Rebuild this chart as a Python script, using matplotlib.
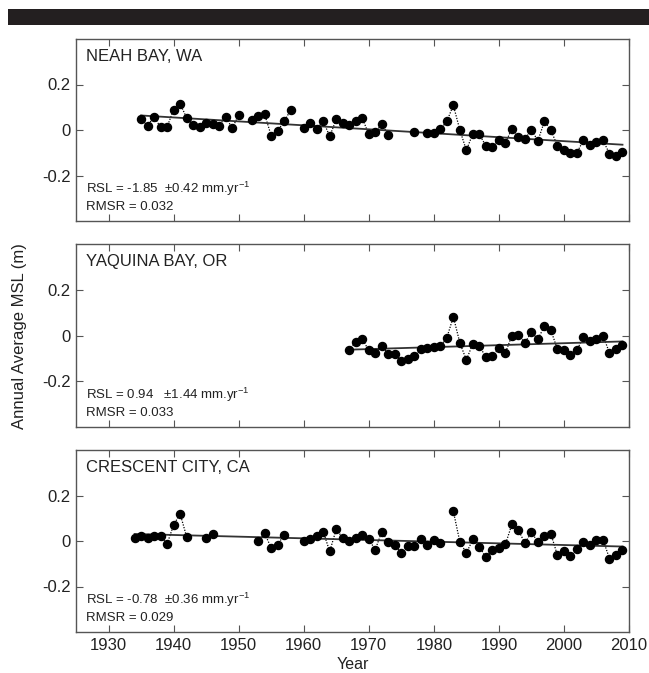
import numpy as np
import matplotlib
matplotlib.use("Agg")
import matplotlib.pyplot as plt
from matplotlib.patches import Rectangle

plt.rcParams['font.family'] = ['Liberation Sans', 'DejaVu Sans']
plt.rcParams['mathtext.fontset'] = 'custom'
plt.rcParams['mathtext.rm'] = 'Liberation Sans'

nan = np.nan

# ---- Neah Bay, WA ----
neah_years = list(range(1935, 2010))
neah_msl = [0.048, 0.019, 0.058, 0.012, 0.013, 0.090, 0.115, 0.054, 0.020, 0.012,
            0.029, 0.028, 0.019, 0.057, 0.009, 0.064, nan, 0.044, 0.063, 0.069,
            -0.025, -0.003, 0.038, 0.088, nan, 0.009, 0.032, 0.004, 0.039, -0.028,
            0.047, 0.032, 0.022, 0.039, 0.053, -0.019, -0.010, 0.025, -0.020, nan,
            nan, nan, -0.007, nan, -0.013, -0.015, 0.003, 0.038, 0.109, 0.000,
            -0.089, -0.016, -0.019, -0.070, -0.073, -0.042, -0.057, 0.006, -0.029, -0.039,
            0.000, -0.047, 0.038, -0.001, -0.070, -0.089, -0.102, -0.099, -0.045, -0.067,
            -0.051, -0.045, -0.104, -0.114, -0.096]

# ---- Yaquina Bay, OR ----
yaq_years = list(range(1967, 2010))
yaq_msl = [-0.063, -0.027, -0.015, -0.065, -0.075, -0.046, -0.079, -0.079, -0.112, -0.104,
           -0.091, -0.060, -0.053, -0.051, -0.046, -0.010, 0.082, -0.032, -0.107, -0.035,
           -0.044, -0.096, -0.091, -0.056, -0.076, 0.000, 0.004, -0.032, 0.015, -0.016,
           0.041, 0.022, -0.060, -0.062, -0.085, -0.063, -0.007, -0.024, -0.016, 0.000,
           -0.076, -0.060, -0.040]

# ---- Crescent City, CA ----
cc_years = list(range(1934, 2010))
cc_msl = [0.012, 0.024, 0.012, 0.024, 0.024, -0.013, 0.070, 0.120, 0.019, nan,
          nan, 0.013, 0.030, nan, nan, nan, nan, nan, nan, 0.000,
          0.034, -0.031, -0.016, 0.028, nan, nan, -0.001, 0.010, 0.022, 0.041,
          -0.046, 0.052, 0.013, 0.000, 0.011, 0.028, 0.007, -0.038, 0.041, -0.004,
          -0.018, -0.054, -0.020, -0.022, 0.010, -0.016, 0.003, -0.009, nan, 0.131,
          -0.004, -0.053, 0.007, -0.025, -0.072, -0.038, -0.029, -0.015, 0.073, 0.047,
          -0.009, 0.038, -0.004, 0.023, 0.031, -0.063, -0.045, -0.066, -0.036, -0.004,
          -0.019, 0.006, 0.006, -0.077, -0.060, -0.039]

stations = ["NEAH BAY, WA", "YAQUINA BAY, OR", "CRESCENT CITY, CA"]
rsl_text = [r"RSL = -1.85  ±0.42 mm.yr$^{\mathregular{-1}}$",
            r"RSL = 0.94   ±1.44 mm.yr$^{\mathregular{-1}}$",
            r"RSL = -0.78  ±0.36 mm.yr$^{\mathregular{-1}}$"]
rmsr_text = ["RMSR = 0.032", "RMSR = 0.033", "RMSR = 0.029"]
series = [(neah_years, neah_msl), (yaq_years, yaq_msl), (cc_years, cc_msl)]

xticks = list(range(1930, 2011, 10))
yticks = [-0.2, 0, 0.2]
yticklabels = ["-0.2", "0", "0.2"]

W, H = 649, 673
fig = plt.figure(figsize=(W / 100, H / 100), dpi=100)

# top black bar
fig.patches.append(Rectangle((8 / W, 1 - 25 / H), 1 - 8 / W, 16 / H,
                             transform=fig.transFigure, facecolor='#231f20',
                             edgecolor='none'))

left, right = 76 / W, 629 / W
panels_px = [(39, 221), (244, 427), (450, 632)]
spine_col = '#555555'
txt_col = '#222222'

axes = []
for i, ((top, bot), (yrs, vals)) in enumerate(zip(panels_px, series)):
    ax = fig.add_axes([left, 1 - bot / H, right - left, (bot - top) / H])
    axes.append(ax)
    yrs_a = np.array(yrs, dtype=float)
    v = np.array(vals, dtype=float)
    ax.plot(yrs_a, v, linestyle=(0, (1, 1.2)), color='k', lw=0.9, zorder=2)
    ax.plot(yrs_a, v, 'o', color='k', ms=5.8, zorder=3)
    m = ~np.isnan(v)
    p = np.polyfit(yrs_a[m], v[m], 1)
    xl = np.array([yrs_a[m][0], yrs_a[m][-1]])
    ax.plot(xl, np.polyval(p, xl), color='#333333', lw=1.3, zorder=2.5)

    ax.set_xlim(1925, 2010)
    ax.set_ylim(-0.4, 0.4)
    ax.set_xticks(xticks)
    ax.set_yticks(yticks)
    ax.set_yticklabels(yticklabels)
    ax.tick_params(direction='in', top=True, right=True, length=5, width=0.8,
                   colors=spine_col, labelcolor=txt_col, labelsize=12, pad=4)
    if i < 2:
        ax.tick_params(labelbottom=False)
    for s in ax.spines.values():
        s.set_color(spine_col)
        s.set_linewidth(1.0)

    ax.text(0.018, 0.905, stations[i], transform=ax.transAxes, fontsize=12,
            color=txt_col, ha='left', va='center')
    ax.text(0.018, 0.178, rsl_text[i], transform=ax.transAxes, fontsize=9.5,
            color=txt_col, ha='left', va='center')
    ax.text(0.018, 0.077, rmsr_text[i], transform=ax.transAxes, fontsize=9.5,
            color=txt_col, ha='left', va='center')

axes[2].set_xlabel("Year", fontsize=11.5, color=txt_col, labelpad=3)
fig.text(20 / W, 1 - 336 / H, "Annual Average MSL (m)", rotation=90,
         fontsize=12, color=txt_col, ha='center', va='center')

fig.savefig("out.png", dpi=100)
